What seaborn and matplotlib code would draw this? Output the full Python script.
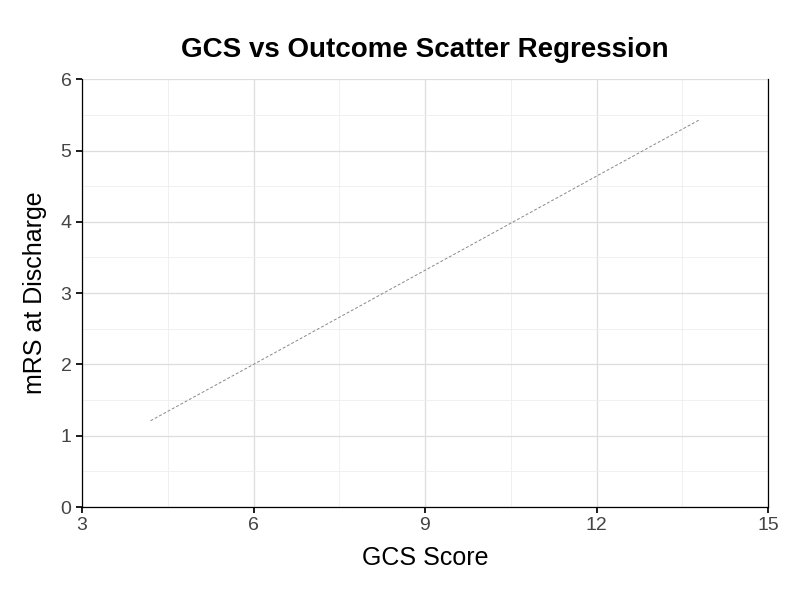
import matplotlib
matplotlib.use("Agg")
import matplotlib.pyplot as plt
import seaborn as sns
import pandas as pd
from matplotlib.ticker import MultipleLocator

gcs = [4.2, 6.0, 9.0, 12.0, 13.8]
mrs = [1.21, 2.0, 3.32, 4.64, 5.43]
df = pd.DataFrame({"GCS Score": gcs, "mRS at Discharge": mrs})

sns.set_theme(style="white")
plt.rcParams['font.family'] = ['Liberation Sans', 'DejaVu Sans']
fig, ax = plt.subplots(figsize=(8, 6), dpi=100)
fig.subplots_adjust(left=0.1025, right=0.96, top=0.868, bottom=0.155)

sns.lineplot(data=df, x="GCS Score", y="mRS at Discharge", ax=ax, color="#888888",
             linestyle=(0, (3, 2)), linewidth=0.7)

ax.set_xlim(3, 15)
ax.set_ylim(0, 6)
ax.xaxis.set_major_locator(MultipleLocator(3))
ax.xaxis.set_minor_locator(MultipleLocator(1.5))
ax.yaxis.set_major_locator(MultipleLocator(1))
ax.yaxis.set_minor_locator(MultipleLocator(0.5))
ax.grid(which="major", color="#dddddd", linewidth=0.9)
ax.grid(which="minor", color="#eeeeee", linewidth=0.6)
ax.set_axisbelow(True)
for s in ["left", "bottom", "right"]:
    ax.spines[s].set_color("black")
    ax.spines[s].set_linewidth(0.9)
ax.spines["top"].set_visible(False)
ax.tick_params(axis="both", which="major", labelsize=14, labelcolor="#444444",
               length=4, color="black", bottom=True, left=True)
ax.set_xlabel("GCS Score", fontsize=18, color="black", labelpad=8)
ax.set_ylabel("mRS at Discharge", fontsize=18, color="black", labelpad=10)
ax.set_title("GCS vs Outcome Scatter Regression", fontsize=20, fontweight="bold",
             color="black", pad=16)
fig.savefig("out.png", dpi=100)
